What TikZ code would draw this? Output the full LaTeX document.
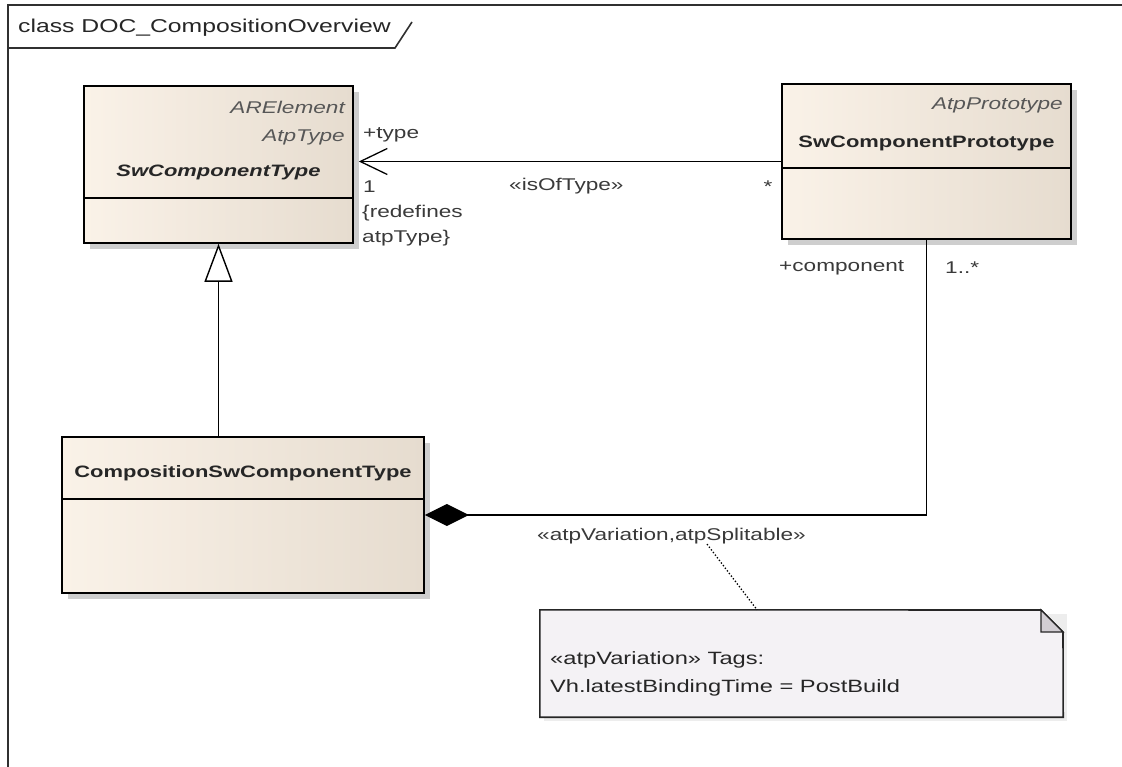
\documentclass[tikz,border=0pt]{standalone}
\usepackage{fontspec}
\setmainfont{Liberation Sans}[FakeStretch=1.33]
\usetikzlibrary{arrows.meta,shadows}
\definecolor{clsL}{HTML}{FAF2E8}
\definecolor{clsR}{HTML}{E6DCCF}
\definecolor{notefill}{HTML}{F4F2F5}
\definecolor{foldfill}{HTML}{D2CED3}
\definecolor{txtc}{HTML}{262626}
\definecolor{lblc}{HTML}{3A3A3A}
\definecolor{framec}{HTML}{303030}
\begin{document}
\begin{tikzpicture}[x=1pt,y=-1pt,
  clsbox/.style={draw=black, line width=1.6pt, left color=clsL, right color=clsR, shading angle=90,
    inner sep=0pt, drop shadow={shadow xshift=6pt, shadow yshift=-6pt, fill=black!35, opacity=0.55}},
  divline/.style={draw=black, line width=1.4pt},
  lbl/.style={inner sep=0pt, text=lblc, font=\fontsize{17}{20}\selectfont},
  stereo/.style={inner sep=0pt, text=lblc!85, font=\fontsize{17}{20}\selectfont\itshape},
  cname/.style={inner sep=0pt, text=txtc, font=\fontsize{16.5}{20}\selectfont\bfseries},
  conn/.style={draw=black, line width=1.5pt},
  notetxt/.style={inner sep=0pt, text=txtc, font=\fontsize{17.8}{20}\selectfont, anchor=west}
]
\useasboundingbox (0,0) rectangle (1122,767);
\fill[white] (0,0) rectangle (1122,767);

% frame
\draw[framec, line width=2pt] (8,767) -- (8,5) -- (1122,5);
\draw[framec, line width=1.6pt] (8,48) -- (395,48) -- (412,22);
\node[lbl, text=txtc, anchor=west, font=\fontsize{18.6}{20}\selectfont] (frametitle) at (18,28) {class DOC\_CompositionOverview};

% classes
\node[clsbox, minimum width=269pt, minimum height=157pt] (type) at (218.5,164.5) {};
\draw[divline] (84,198) -- (353,198);
\node[stereo, anchor=east] (typeS1) at (345,107) {ARElement};
\node[stereo, anchor=east] (typeS2) at (345,137) {AtpType};
\node[cname, font=\fontsize{16.5}{20}\selectfont\bfseries\itshape] (typeN) at (218.5,172) {SwComponentType};

\node[clsbox, minimum width=289pt, minimum height=155pt] (proto) at (926.5,161.5) {};
\draw[divline] (782,168) -- (1071,168);
\node[stereo, anchor=east] (protoS) at (1063,105) {AtpPrototype};
\node[cname] (protoN) at (926.5,143) {SwComponentPrototype};

\node[clsbox, minimum width=362pt, minimum height=156pt] (comp) at (243,515) {};
\draw[divline] (62,499) -- (424,499);
\node[cname] (compN) at (243,473) {CompositionSwComponentType};

% generalization
\draw[conn, -{Triangle[open, length=38pt, width=28pt, fill=white, line width=1.4pt]}]
  (comp.north -| type.south) -- (type.south);

% association isOfType
\draw[conn, -{Straight Barb[length=27pt, width=26pt, line width=1.3pt]}]
  (proto.west) -- ([xshift=5pt]type.east |- proto.west);
\node[lbl, anchor=west] (lType) at (363,135) {+type};
\node[lbl, anchor=west] (lOne) at (363,187) {1};
\node[lbl, anchor=west] (lRed1) at (362,213) {\{redefines};
\node[lbl, anchor=west] (lRed2) at (362,238) {atpType\}};
\node[lbl, anchor=west] (lIsOf) at (509,186) {«isOfType»};
\node[lbl, anchor=center] (lStar) at (768,187) {*};

% composition
\draw[conn, -{Diamond[length=44pt, width=22pt]}] (proto.south) |- (comp.east);
\node[lbl, anchor=west] (lComp) at (779,268) {+component};
\node[lbl, anchor=west] (lMult) at (945,268) {1..*};
\node[lbl, anchor=west] (lStereo) at (537,536) {«atpVariation,atpSplitable»};

% note
\node[inner sep=0pt, minimum width=523pt, minimum height=107pt] (note) at (801.5,663.5) {};
\fill[black!7] (544,614) -- (1067,614) -- (1067,721) -- (544,721) -- cycle;
\draw[line width=1.6pt, draw=black!85, fill=notefill]
  (note.north west) -- (1041,610) -- (1063,632) -- (note.south east) -- (note.south west) -- cycle;
\draw[line width=1.4pt, draw=black!85, fill=foldfill] (1041,610) -- (1041,632) -- (1063,632) -- cycle;
\node[notetxt] (nt1) at (550,660) {«atpVariation» Tags:};
\node[notetxt] (nt2) at (550,688) {Vh.latestBindingTime = PostBuild};

\draw[line width=1.3pt, dotted] (lStereo.south -| 707,0) -- (note.north -| 757,0);
\end{tikzpicture}
\end{document}
